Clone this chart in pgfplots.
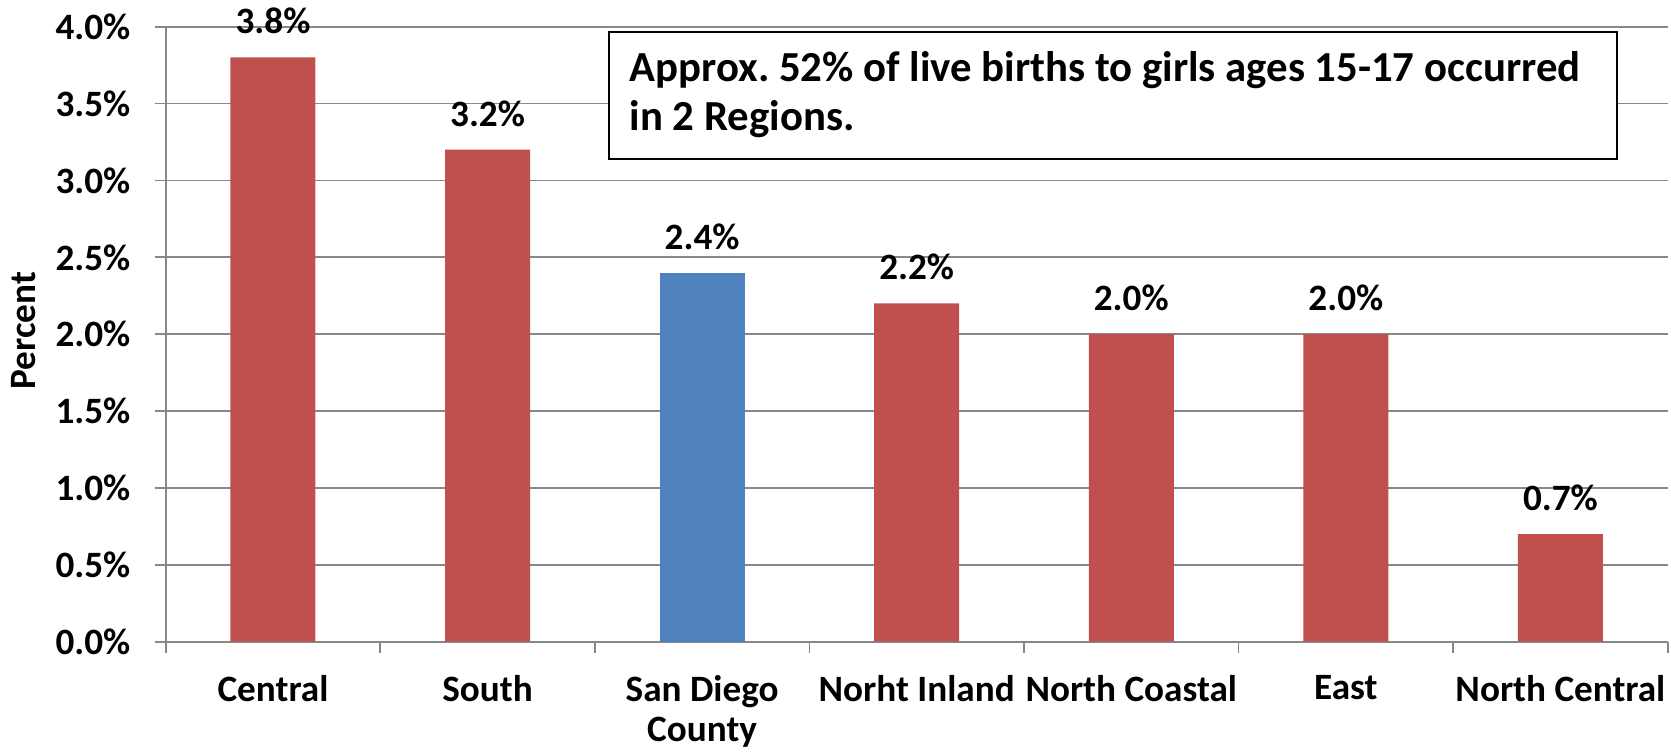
\documentclass[border=0pt]{standalone}
\usepackage{pgfplots}
\pgfplotsset{compat=1.18}
\usepackage{fontspec}
\setmainfont{Carlito}
\frenchspacing
\definecolor{barred}{HTML}{C0504D}
\definecolor{barblue}{HTML}{4F81BD}
\definecolor{gridgray}{HTML}{888888}
\begin{document}
\begin{tikzpicture}
\useasboundingbox (-82.85pt,-55.15pt) rectangle (752.65pt,320.85pt);
\begin{axis}[
  at={(0,0)}, anchor=south west,
  scale only axis, width=751pt, height=307.5pt,
  xmin=-0.5, xmax=6.5, ymin=0, ymax=4,
  axis x line*=bottom, axis y line*=left,
  axis line style={gridgray, line width=0.9pt, -},
  xtick={-0.5,0.5,...,6.5},
  x tick label as interval,
  xticklabels={Central,South,{San Diego\\County},Norht Inland,North Coastal,East,North Central},
  ytick={0,0.5,...,4},
  yticklabels={0.0\%,0.5\%,1.0\%,1.5\%,2.0\%,2.5\%,3.0\%,3.5\%,4.0\%},
  tick align=outside, major tick length=5.5pt,
  tick style={gridgray, line width=0.9pt},
  ymajorgrids, grid style={gridgray, line width=0.9pt},
  xticklabel style={font=\fontsize{18.6}{20}\selectfont\bfseries, align=center, anchor=north, inner sep=0pt, yshift=-11pt},
  yticklabel style={font=\fontsize{18.6}{21.6}\selectfont\bfseries, anchor=east, inner sep=0pt, xshift=-12pt},
  ylabel={Percent},
  ylabel style={font=\fontsize{18.6}{21.6}\selectfont\bfseries, at={(axis description cs:-0.0948,0.506)}, anchor=center},
  ybar, bar width=42.5pt, bar shift=0pt,
  nodes near coords={\pgfmathprintnumber[fixed,fixed zerofill,precision=1,assume math mode=true]{\pgfplotspointmeta}\%},
  every node near coord/.append style={font=\fontsize{18.6}{21.6}\selectfont\bfseries, inner sep=0pt, yshift=11.5pt, text=black},
  clip=false,
]
\addplot[fill=barred, draw=none] coordinates {(0,3.8) (1,3.2) (3,2.2) (4,2.0) (5,2.0) (6,0.7)};
\addplot[fill=barblue, draw=none] coordinates {(2,2.4)};
\end{axis}
\draw[line width=1pt, fill=white] (221.65pt,241.35pt) rectangle (725.5pt,304.7pt);
\node[anchor=base west, inner sep=0pt, font=\fontsize{21.4}{24}\selectfont\bfseries] at (231.8pt,280pt) {Approx. 52\% of live births to girls ages 15-17 occurred};
\node[anchor=base west, inner sep=0pt, font=\fontsize{21.4}{24}\selectfont\bfseries] at (231.8pt,255.85pt) {in 2 Regions.};
\end{tikzpicture}
\end{document}
